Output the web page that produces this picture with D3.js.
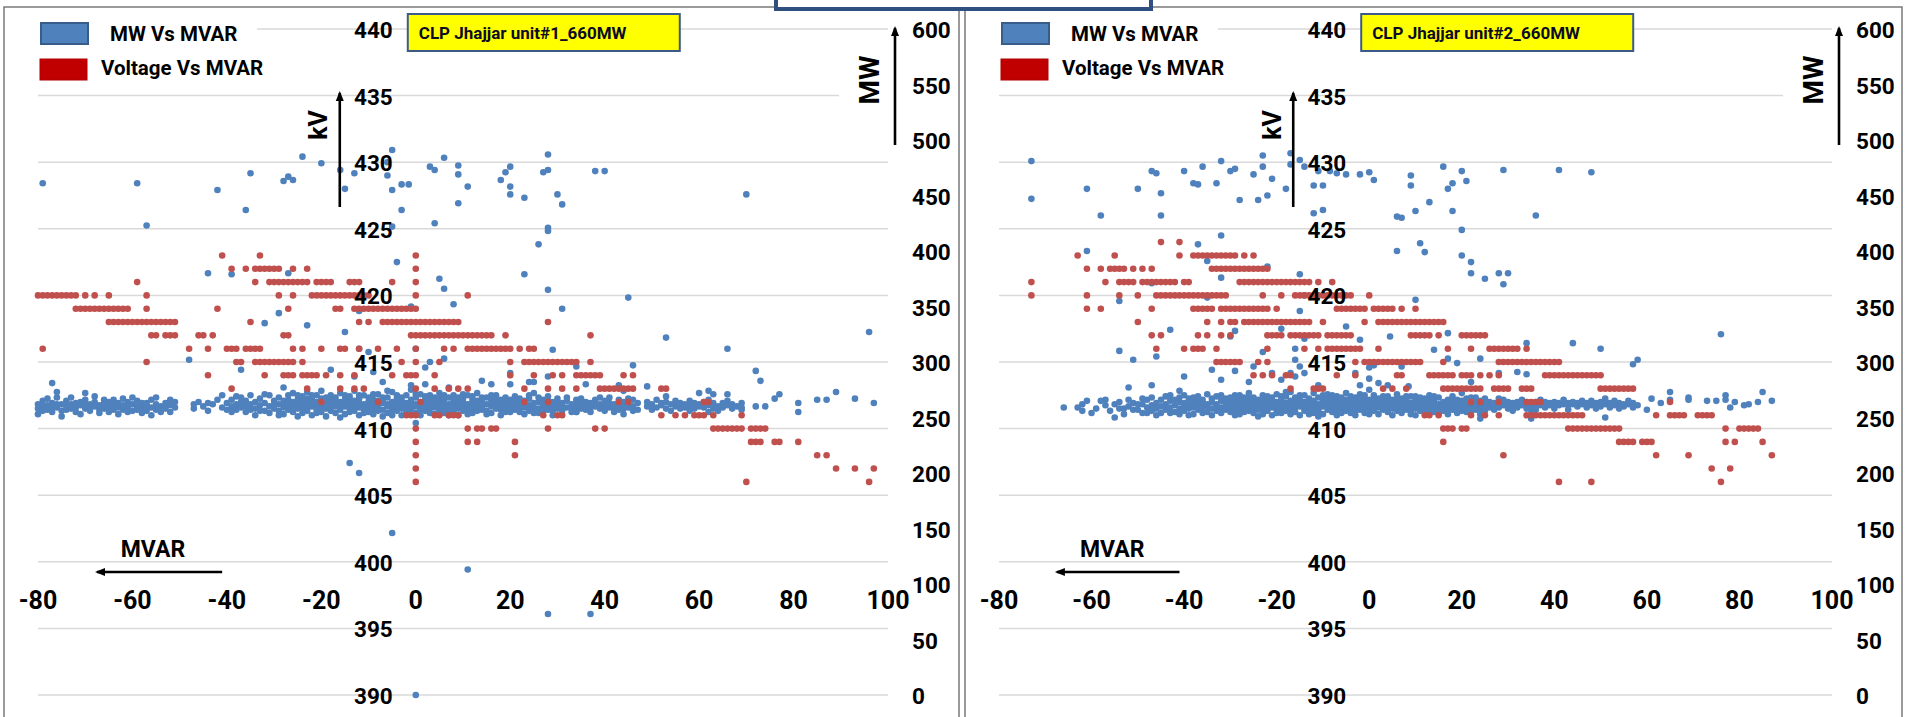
<!DOCTYPE html>
<html>
<head>
<meta charset="utf-8">
<script src="https://cdn.jsdelivr.net/npm/d3@7/dist/d3.min.js"></script>
<style>
  html, body { margin: 0; padding: 0; background: #fff; }
  svg { display: block; }
  text { font-family: Roboto, "Noto Sans", "Liberation Sans", sans-serif; }
</style>
</head>
<body>
<svg id="chart" width="1910" height="717"></svg>
<script>
// ---------------- axis ticks ----------------
const mvarTicks = [-80, -60, -40, -20, 0, 20, 40, 60, 80, 100];
const kvTicks = [390, 395, 400, 405, 410, 415, 420, 425, 430, 435, 440];
const mwTicks = [0, 50, 100, 150, 200, 250, 300, 350, 400, 450, 500, 550, 600];

// ---------------- series names / titles ----------------
const seriesNames = ["MW Vs MVAR", "Voltage Vs MVAR"];
const unitTitles = ["CLP Jhajjar unit#1_660MW", "CLP Jhajjar unit#2_660MW"];

// ---------------- Unit 1 : bus voltage (kV) per MVAR reading ----------------
// [kV, [MVAR readings at that voltage]]
const unit1Voltage = [
  [423, [-41, -33, 0]],
  [422, [-39, -36, -34, -33, -32, -31, -30, -29, -26, -23, 0]],
  [421, [-59, -34, -31, -30, -29, -28, -27, -26, -25, -24, -23, -21, -20, -19, -18, -14, -13, -12, -5, 0]],
  [420, [-80, -79, -78, -77, -76, -75, -74, -73, -72, -70, -68, -65, -57, -29, -26, -22, -21, -20, -19, -18, -17, -16, -15, -14, -13, -12, -11, -10, 0, 11]],
  [419, [-72, -71, -70, -69, -68, -67, -66, -65, -64, -63, -62, -61, -57, -42, -27, -17, -16, -13, -12, -11, -10, -9, -8, -7, -6, -5, -4, -3, -2, -1, 0]],
  [418, [-65, -64, -63, -62, -61, -60, -59, -58, -57, -56, -55, -54, -53, -52, -51, -35, -12, -10, -7, -6, -5, -4, -3, -2, -1, 0, 1, 2, 3, 4, 5, 6, 7, 8, 9, 28]],
  [417, [-56, -55, -53, -52, -51, -46, -45, -43, -28, -27, -1, 0, 1, 2, 3, 4, 5, 6, 7, 8, 9, 10, 11, 12, 13, 14, 15, 16, 19, 37]],
  [416, [-79, -48, -44, -40, -39, -38, -36, -35, -34, -33, -26, -24, -20, -16, -15, -12, -8, -4, 0, 6, 8, 11, 12, 13, 14, 15, 16, 17, 18, 19, 20, 22, 24, 25]],
  [415, [-57, -38, -37, -34, -33, -32, -31, -30, -29, -28, -27, -26, -24, -3, 0, 5, 20, 23, 24, 25, 26, 27, 28, 29, 30, 31, 32, 33, 34, 37]],
  [414, [-44, -32, -28, -27, -26, -24, -23, -22, -21, -19, -16, -13, -5, -2, -1, 0, 4, 20, 25, 29, 31, 34, 35, 36, 37, 38, 39, 44, 46]],
  [413, [-39, -23, -16, -13, -11, 0, 4, 7, 9, 11, 23, 28, 31, 34, 39, 40, 41, 42, 43, 44, 45, 46, 52, 53]],
  [412, [-20, -8, 1, 23, 28, 43, 45, 61, 62]],
  [411, [-2, -1, 0, 4, 5, 7, 8, 9, 27, 30, 31, 52, 55, 57, 59, 60, 61, 63, 69]],
  [410, [0, 11, 13, 14, 16, 17, 28, 38, 40, 63, 64, 65, 66, 67, 68, 69, 71, 72, 73, 74]],
  [409, [0, 11, 13, 21, 71, 72, 73, 76, 77, 81]],
  [408, [0, 21, 85, 87]],
  [407, [0, 89, 93, 97]],
  [406, [0, 70, 96]]
];

// ---------------- Unit 1 : generator load (MW) per MVAR reading ----------------
// normal-load cluster: [MVAR, [MW readings]]
const unit1LoadBand = [
  [-80, [258, 262, 253]], [-79, [260, 265, 256]], [-78, [257, 261, 267]], [-77, [263, 255, 259]], [-76, [259, 268, 262]],
  [-75, [262, 256, 251]], [-74, [260, 265, 257]], [-73, [258, 262, 268]], [-72, [255, 259, 263]], [-71, [261, 264, 253]],
  [-70, [258, 266, 262]], [-69, [262, 256, 259]], [-68, [260, 264, 269]], [-67, [257, 261, 254]], [-66, [263, 258, 266]],
  [-65, [255, 260, 264]], [-64, [262, 266, 257]], [-63, [259, 263, 253]], [-62, [257, 261, 267]], [-61, [264, 259, 255]],
  [-60, [256, 262, 268]], [-59, [260, 265, 257]], [-58, [258, 254, 263]], [-57, [261, 263, 256]], [-56, [259, 266, 252]],
  [-55, [257, 262, 268]], [-54, [260, 255]], [-53, [263, 258]], [-52, [261, 255, 266]], [-51, [259, 264]],
  [-47, [262, 258]], [-46, [264]], [-45, [260]], [-44, [256, 263]], [-43, [262]], [-42, [266]], [-41, [259, 270]], [-40, [263, 257]],
  [-39, [260, 266, 255]], [-38, [262, 257, 269]], [-37, [264, 268, 259]], [-36, [260, 255, 265]], [-35, [262, 270, 257]],
  [-34, [258, 264, 252]], [-33, [261, 267, 256]], [-32, [256, 263, 271]], [-31, [260, 270, 254]], [-30, [258, 265, 262]],
  [-29, [262, 256, 268, 252]], [-28, [259, 265, 253, 262]], [-27, [261, 270, 257, 266]], [-26, [264, 255, 260, 272]],
  [-25, [258, 266, 262, 251, 270]], [-24, [261, 254, 269, 265, 258]], [-23, [259, 263, 256, 273, 267]], [-22, [266, 260, 252, 262, 270]],
  [-21, [262, 257, 270, 264, 254]], [-20, [260, 255, 267, 274, 263]], [-19, [263, 258, 261, 251, 268]], [-18, [259, 265, 270, 256, 262]],
  [-17, [262, 254, 260, 268, 265]], [-16, [257, 264, 261, 272, 250]], [-15, [260, 266, 253, 263, 270]], [-14, [258, 262, 269, 255, 265]],
  [-13, [261, 256, 265, 274, 259]], [-12, [259, 263, 252, 267, 270]], [-11, [262, 257, 270, 260, 254]], [-10, [264, 255, 261, 268, 258]],
  [-9, [258, 266, 262, 253, 271]], [-8, [261, 259, 271, 256, 265]], [-7, [263, 257, 265, 251, 268]], [-6, [260, 268, 254, 262, 274]],
  [-5, [259, 264, 257, 273, 252]], [-4, [262, 256, 267, 260, 270]], [-3, [258, 265, 261, 252, 268]], [-2, [261, 270, 255, 263, 258]],
  [-1, [263, 258, 266, 275, 253]], [0, [260, 254, 268, 262, 271]], [1, [259, 264, 257, 271, 252]], [2, [262, 256, 266, 260, 269]],
  [3, [258, 263, 270, 254, 266]], [4, [261, 259, 265, 268, 253]], [5, [263, 256, 260, 272, 267]], [6, [259, 266, 254, 262, 270]],
  [7, [262, 257, 268, 260, 252]], [8, [260, 264, 255, 270, 266]], [9, [258, 263, 261, 252, 268]], [10, [261, 267, 256, 264, 271]],
  [11, [259, 262, 270, 257, 253]], [12, [263, 258, 266, 254, 269]], [13, [260, 265, 261, 272, 256]],
  [14, [259, 264, 257, 268]], [15, [262, 256, 268, 253]], [16, [260, 265, 254, 270]], [17, [258, 263, 270, 266]],
  [18, [261, 257, 266, 252]], [19, [263, 259, 255, 268]], [20, [260, 266, 262, 255]], [21, [257, 264, 269, 261]],
  [22, [262, 258, 255, 267]], [23, [259, 265, 261, 253]], [24, [261, 256, 267, 270]], [25, [263, 259, 272, 254]],
  [26, [258, 264, 254, 268]], [27, [260, 266, 262, 256]], [28, [262, 257, 269, 265]], [29, [259, 264, 256, 252]],
  [30, [261, 267, 258, 264]], [31, [263, 256, 260]], [32, [259, 265, 268]], [33, [262, 258, 255]], [34, [260, 266, 255, 263]],
  [35, [258, 263, 267]], [36, [261, 257, 264]], [37, [263, 259, 255]], [38, [260, 266, 262]], [39, [258, 262, 268]],
  [40, [261, 256, 265]], [41, [263, 268, 259]], [42, [259, 262, 255]], [43, [261, 257, 266]], [44, [258, 264, 261]],
  [45, [262, 259, 267]], [46, [260, 266, 256]], [47, [263, 257]],
  [49, [260, 264]], [50, [262, 257]], [51, [259, 266]], [52, [261, 263]], [53, [258, 264]],
  [54, [262, 256]], [55, [260, 265]], [56, [263, 258]], [57, [259, 262]], [58, [261, 256, 265]],
  [59, [258, 263]], [60, [262, 260]], [61, [259, 264]], [62, [261, 266]], [63, [258, 263]],
  [64, [260, 256]], [65, [263, 259]], [66, [261, 265]], [67, [258, 262]], [68, [260]], [69, [257, 263]]
];
// scattered readings: [MVAR, MW]
const unit1LoadScatter = [
  [-79, 461], [-59, 461], [-57, 423], [-42, 455], [-36, 437], [-35, 470], [-28, 463], [-27, 467],
  [-26, 464], [-24, 485], [-20, 479], [-16, 473], [-15, 456], [-13, 470], [-5, 491], [-6, 480],
  [-6, 468], [-5, 455], [-3, 460], [-1.5, 460], [-3, 437], [-5, 422], [3, 476], [4, 473], [6, 484],
  [4, 425], [9, 477], [9, 469], [9, 443], [11, 458], [18, 464], [19, 471], [20, 476], [20, 458],
  [20, 451], [23, 448], [27, 471], [28, 473], [28, 487], [28, 421], [30, 451], [31, 442], [38, 472],
  [40, 472], [70, 451],
  [-77, 281], [-76, 273], [-70, 272], [-44, 380], [-39, 379], [-27, 380], [-48, 302], [-37, 293],
  [-29, 344], [-32, 335], [-23, 333], [-28, 277], [-18, 293], [-15, 327], [-13, 287], [-12, 346],
  [-12, 312], [-10, 309], [-9, 291], [-7, 282], [-4, 390], [-1, 350], [0, 312], [0, 245], [-1, 279],
  [2, 295], [3, 300], [2, 280], [5, 375], [6, 366], [8, 352], [6, 303], [7, 277], [14, 283],
  [-14, 209], [-12, 200],
  [28, 418], [26, 406], [23, 379], [28, 365], [31, 348], [45, 358], [29, 311], [53, 322], [66, 312],
  [96, 327], [34, 296], [46, 297], [72, 292], [73, 283], [16, 280], [20, 290], [20, 280], [24, 282],
  [25, 282], [28, 287], [36, 280], [49, 278], [43, 279], [44, 274], [53, 269], [60, 272], [62, 274],
  [63, 271], [66, 271], [77, 271], [76, 267], [85, 266], [87, 266], [89, 273], [93, 267], [97, 263],
  [81, 263], [81, 255], [72, 260], [74, 260], [69, 259], [62, 255], [44, 253], [34, 255],
  [-5, 146], [11, 113], [28, 73], [37, 73], [0, 0]
];

// ---------------- Unit 2 : bus voltage (kV) per MVAR reading ----------------
const unit2Voltage = [
  [424, [-45, -41]],
  [423, [-63, -55, -41, -38, -37, -36, -35, -34, -33, -32, -31, -30, -29, -27, -25]],
  [422, [-61, -58, -56, -55, -54, -53, -51, -49, -47, -34, -33, -32, -31, -30, -29, -28, -27, -26, -25, -24, -23, -22]],
  [421, [-73, -57, -54, -53, -52, -51, -49, -48, -47, -46, -45, -44, -43, -42, -40, -39, -28, -27, -26, -25, -24, -23, -22, -21, -20, -19, -18, -17, -16, -15, -14, -13, -11, -8]],
  [420, [-73, -61, -54, -50, -46, -45, -44, -43, -42, -41, -40, -39, -38, -37, -36, -35, -34, -33, -32, -31, -23, -19, -16, -15, -14, -13, -12, -11, -10, -9, -8, -7, -6, -5, -4, 0]],
  [419, [-61, -58, -47, -38, -37, -36, -35, -34, -32, -31, -30, -29, -28, -27, -26, -25, -24, -23, -22, -20, -7, -6, -5, -4, -3, -2, -1, 1, 2, 3, 4, 5, 7, 10]],
  [418, [-50, -35, -32, -30, -29, -27, -26, -25, -24, -23, -22, -21, -20, -19, -18, -17, -16, -15, -14, -13, -10, -1, 2, 3, 4, 5, 6, 7, 8, 9, 10, 11, 12, 13, 14, 15, 16]],
  [417, [-47, -45, -37, -35, -32, -30, -22, -21, -20, -19, -17, -16, -15, -14, -13, -12, -11, -9, -8, -7, -6, -5, -4, 9, 10, 11, 12, 13, 15, 20, 21, 22, 23, 24, 25]],
  [416, [-46, -40, -38, -37, -36, -33, -22, -14, -11, -9, -8, -7, -6, -5, -4, -3, -2, 2, 17, 22, 26, 27, 28, 29, 30, 31, 32, 34]],
  [415, [-33, -32, -31, -30, -29, -28, -24, -22, -3, -1, 0, 1, 2, 3, 4, 5, 6, 7, 8, 9, 10, 11, 16, 28, 29, 30, 31, 32, 33, 34, 35, 36, 37, 38, 39, 40, 41]],
  [414, [-25, -23, -21, -18, -17, -7, -3, 6, 7, 13, 14, 15, 16, 17, 18, 20, 21, 22, 24, 26, 28, 38, 39, 40, 41, 42, 43, 44, 45, 46, 47, 48, 49, 50]],
  [413, [-17, -12, -11, -10, 3, 5, 8, 16, 17, 18, 19, 20, 21, 22, 23, 24, 27, 28, 29, 30, 33, 34, 35, 50, 51, 52, 53, 54, 55, 56, 57]],
  [412, [22, 24, 28, 34, 35, 36, 37, 65]],
  [411, [12, 13, 15, 22, 25, 28, 34, 35, 36, 37, 38, 39, 40, 41, 42, 43, 44, 45, 46, 62, 65, 66, 67, 68, 71, 72, 73, 74]],
  [410, [16, 17, 18, 20, 21, 43, 44, 45, 46, 47, 48, 49, 50, 51, 52, 53, 54, 77, 80, 81, 82, 83, 84]],
  [409, [16, 54, 55, 56, 57, 59, 60, 61, 77, 79, 85]],
  [408, [29, 62, 69, 87]],
  [407, [74, 78]],
  [406, [41, 48, 76]]
];

// ---------------- Unit 2 : generator load (MW) per MVAR reading ----------------
const unit2LoadBand = [
  [-66, [259]], [-62, [262, 256]], [-59, [258]], [-57, [261, 266]], [-56, [256]], [-55, [262]], [-54, [264, 258]],
  [-53, [258, 253]], [-52, [260, 266]], [-51, [263, 257]], [-50, [257, 262]], [-49, [262, 267]], [-48, [259, 266, 254]],
  [-47, [261, 256, 268]], [-46, [263, 258, 252]], [-45, [260, 266, 254]], [-44, [262, 257, 269]], [-43, [259, 265, 270, 254]],
  [-42, [261, 255, 266]], [-41, [264, 258, 268, 253]], [-40, [260, 256, 263, 270]], [-39, [262, 267, 258, 252]], [-38, [259, 264, 253, 268]],
  [-37, [261, 257, 269, 265]], [-36, [263, 259, 266, 254]], [-35, [260, 255, 262, 271]], [-34, [258, 264, 267, 252]],
  [-33, [262, 256, 260, 269]], [-32, [259, 265, 270, 254]], [-31, [261, 257, 263, 267]], [-30, [263, 259, 268, 255]],
  [-29, [260, 265, 257, 270, 252]], [-28, [262, 258, 270, 253, 266]], [-27, [259, 264, 261, 255, 268]], [-26, [261, 256, 267, 272, 263]],
  [-25, [263, 259, 254, 268, 266]], [-24, [260, 266, 262, 257, 251]], [-23, [258, 263, 270, 253, 266]], [-22, [261, 256, 265, 269, 259]],
  [-21, [263, 259, 268, 252, 265]], [-20, [260, 264, 257, 271, 254]], [-19, [262, 258, 266, 254, 269]], [-18, [259, 263, 269, 256, 273]],
  [-17, [261, 257, 265, 273, 253]], [-16, [263, 259, 255, 268, 266]], [-15, [260, 266, 262, 252, 270]], [-14, [258, 264, 270, 256, 261]],
  [-13, [261, 257, 263, 267, 253]], [-12, [259, 265, 254, 272, 262]], [-11, [262, 258, 268, 256, 251]], [-10, [260, 264, 253, 270, 266]],
  [-9, [263, 257, 266, 260, 271]], [-8, [259, 262, 270, 255, 266]], [-7, [261, 265, 257, 252, 269]], [-6, [258, 263, 268, 260, 254]],
  [-5, [262, 256, 266, 272, 259]], [-4, [260, 264, 254, 258, 269]], [-3, [263, 259, 268, 256, 252]], [-2, [261, 257, 265, 271, 267]],
  [-1, [259, 263, 254, 267, 270]], [0, [262, 258, 266, 260, 253]], [1, [260, 264, 256, 270, 267]], [2, [263, 259, 267, 253, 261]],
  [3, [261, 257, 265, 262, 269]], [4, [259, 263, 269, 255, 266]], [5, [262, 258, 266, 260, 252]], [6, [260, 264, 256, 271, 267]],
  [7, [263, 259, 267, 254, 261]], [8, [261, 257, 265, 262, 269]], [9, [259, 263, 269, 256, 253]], [10, [262, 258, 266, 252, 269]],
  [11, [260, 264, 256, 268, 262]], [12, [263, 259, 267, 261, 254]], [13, [261, 257, 264, 270, 266]], [14, [259, 263, 255, 266, 269]],
  [15, [262, 258, 268, 254]], [16, [260, 264, 256, 263]], [17, [262, 258, 266, 253]], [18, [261, 257, 264, 269]],
  [19, [263, 259, 254, 266]], [20, [260, 265, 262, 256]], [21, [262, 258, 267, 255]], [22, [259, 264, 256, 268]], [23, [261, 263, 268, 257]],
  [24, [262, 258, 265, 253]], [25, [260, 263, 256, 267]], [26, [262, 264, 259]], [27, [263, 261, 257]], [28, [262, 264, 259, 267]],
  [29, [263, 261, 266]], [30, [262, 264, 258]], [31, [263, 261, 256]], [32, [262, 264, 259]], [33, [263, 261, 266]],
  [34, [262, 264, 258]], [35, [263, 261, 256]], [36, [262, 264, 257]], [37, [263, 261, 266]], [38, [262, 264, 259]],
  [39, [263, 261]], [40, [262, 264, 258]], [41, [263, 261]], [42, [262, 264, 266]], [43, [263, 261, 257]],
  [44, [262, 264]], [45, [263, 260]], [46, [262, 265]], [47, [263, 259]], [48, [261, 265]], [49, [263, 258]],
  [50, [260, 264]], [51, [262, 267]], [52, [259, 263]], [53, [261, 265]], [54, [263, 258]], [55, [260, 262]],
  [56, [262, 265]], [57, [259, 263]], [58, [261]]
];
const unit2LoadScatter = [
  [-73, 481], [-73, 447], [-61, 456], [-58, 432], [-50, 456], [-47, 472], [-46, 470], [-45, 452],
  [-45, 432], [-40, 472], [-38, 461], [-37, 460], [-36, 476], [-33, 461], [-32, 481], [-32, 414],
  [-30, 472], [-29, 474], [-28, 446], [-25, 469], [-24, 446], [-23, 486], [-23, 476], [-22, 450],
  [-21, 465], [-18, 456], [-17, 488], [-17, 478], [-15, 482], [-14, 476], [-12, 459], [-10, 459],
  [-12, 434], [-10, 437], [-11, 472], [-8.5, 472], [-7, 470], [-5, 469], [-2, 469], [0, 471], [1, 464],
  [6, 431], [7, 430], [9, 468], [9, 459], [10, 436], [13, 444], [16, 476], [17, 456], [18, 436],
  [18, 461], [20, 472], [21, 463], [20, 419], [29, 473], [36, 432], [41, 473], [48, 471],
  [-61, 400], [-37, 406], [-35, 391], [-22, 386], [-32, 376], [-47, 371], [-54, 355], [-35, 358],
  [-14, 360], [-15, 379], [-19, 330], [-5, 332], [-14, 321], [-15, 346], [-30, 323], [-29, 328],
  [-43, 329], [-54, 310], [-51, 302], [-46, 305], [-23, 309], [-2, 320], [-16, 312], [-16, 302],
  [-15, 296], [-14, 290], [-16, 287], [0, 295], [1, 297], [7, 296], [4.5, 323], [10, 356], [-3, 290],
  [0, 285], [0, 275], [2, 281], [4, 279], [8.5, 278], [-40, 287], [-34, 293], [-32, 284], [-29, 292],
  [-26, 282], [-25, 296], [-21, 290], [-19, 284], [-17, 290], [-11, 279], [-2, 279], [-63, 259],
  [-61, 265], [-60, 254], [-58, 265], [-55, 250], [-52, 277], [-49, 254], [-47, 279], [-41, 274],
  [6, 400], [11, 407], [12, 399],
  [20, 396], [22, 390], [22, 380], [25, 375], [28, 380], [30, 380], [29, 370], [17, 326], [14, 311],
  [17, 303], [19, 299], [24, 303], [28, 290], [32, 291], [34, 317], [44, 317], [50, 312], [57, 298],
  [58, 302], [76, 325], [22, 282], [20, 272], [34, 289], [85, 273], [65, 273], [87, 265], [84, 264],
  [82, 262], [81, 261], [79, 264], [78, 259], [77, 270], [77, 266], [73, 265], [75, 265], [69, 268],
  [69, 266], [65, 266], [63, 263], [61, 267], [60, 257], [51, 250], [35, 249], [24, 249]
];

// ---------------- layout ----------------
const svg = d3.select("#chart");
const W = 1910, H = 717;
const BLUE = "#4f81bd", RED = "#c0504d";
const DOT_R = 3.3;

const panels = [
  { title: unitTitles[0], band: unit1LoadBand, scatter: unit1LoadScatter, voltage: unit1Voltage,
    frame: [4, 959], plot: [38, 888] },
  { title: unitTitles[1], band: unit2LoadBand, scatter: unit2LoadScatter, voltage: unit2Voltage,
    frame: [965, 1902], plot: [999, 1832] }
];
const yTop = 29, yBot = 695;

function label(g, x, y, str, o = {}) {
  return g.append("text")
    .attr("transform", `translate(${x},${y})` + (o.rotate ? ` rotate(${o.rotate})` : ""))
    .attr("text-anchor", o.anchor || "start")
    .attr("dominant-baseline", "central")
    .attr("font-size", o.size || 22.5)
    .attr("font-weight", o.weight || 700)
    .attr("fill", o.fill || "#000")
    .text(str);
}

function arrow(g, x1, y1, x2, y2) {
  g.append("line").attr("x1", x1).attr("y1", y1).attr("x2", x2).attr("y2", y2)
    .attr("stroke", "#000").attr("stroke-width", 2.6);
  const a = Math.atan2(y2 - y1, x2 - x1), L = 8, Wd = 4;
  const bx = x2 - L * Math.cos(a), by = y2 - L * Math.sin(a);
  const px = -Math.sin(a) * Wd, py = Math.cos(a) * Wd;
  g.append("path")
    .attr("d", `M${x2 + Math.cos(a) * 2},${y2 + Math.sin(a) * 2}L${bx + px},${by + py}L${bx - px},${by - py}Z`)
    .attr("fill", "#000");
}

svg.append("rect").attr("width", W).attr("height", H).attr("fill", "#fff");

panels.forEach(p => {
  const g = svg.append("g");
  const x = d3.scaleLinear().domain([-80, 100]).range(p.plot);
  const yKV = d3.scaleLinear().domain([390, 440]).range([yBot, yTop]);
  const yMW = d3.scaleLinear().domain([0, 600]).range([yBot, yTop]);
  const x0 = x(0);

  // frame
  g.append("rect").attr("x", p.frame[0]).attr("y", 7)
    .attr("width", p.frame[1] - p.frame[0]).attr("height", H)
    .attr("fill", "#fff").attr("stroke", "#7a7a7a").attr("stroke-width", 1.5);

  // gridlines (kV axis)
  g.append("g").selectAll("line").data(kvTicks).join("line")
    .attr("x1", p.plot[0]).attr("x2", p.plot[1])
    .attr("y1", d => yKV(d)).attr("y2", d => yKV(d))
    .attr("stroke", "#d9d9d9").attr("stroke-width", 1.5);

  // MW vs MVAR points
  const loadPts = [];
  p.band.forEach(([m, list]) => list.forEach(v => loadPts.push([m, v])));
  p.scatter.forEach(d => loadPts.push(d));
  g.append("g").selectAll("circle").data(loadPts).join("circle")
    .attr("cx", d => x(d[0])).attr("cy", d => yMW(d[1])).attr("r", DOT_R)
    .attr("fill", BLUE);

  // Voltage vs MVAR points
  const voltPts = [];
  p.voltage.forEach(([kv, list]) => list.forEach(m => voltPts.push([m, kv])));
  g.append("g").selectAll("circle").data(voltPts).join("circle")
    .attr("cx", d => x(d[0])).attr("cy", d => yKV(d[1])).attr("r", DOT_R)
    .attr("fill", RED);

  // legend
  const lx = p.plot[0];
  g.append("rect").attr("x", lx).attr("y", 14).attr("width", 219).attr("height", 76).attr("fill", "#fff");
  g.append("rect").attr("x", lx + 3).attr("y", 23).attr("width", 47).attr("height", 21)
    .attr("fill", BLUE).attr("stroke", "#385d8a").attr("stroke-width", 2);
  g.append("rect").attr("x", lx + 2).attr("y", 59).attr("width", 47).attr("height", 21)
    .attr("fill", "#c00000").attr("stroke", "#b00000").attr("stroke-width", 1);
  label(g, lx + 72, 34, seriesNames[0], { size: 20.5 });
  label(g, lx + 63, 68, seriesNames[1], { size: 20.5 });

  // white area behind the MW title
  g.append("rect").attr("x", p.plot[1] - 49).attr("y", 40).attr("width", 50).attr("height", 110).attr("fill", "#fff");

  // kV tick labels
  kvTicks.forEach(v => label(g, x0 - 23, yKV(v) + 1, v, { anchor: "end" }));
  // MW tick labels
  mwTicks.forEach(v => label(g, p.plot[1] + 24, yMW(v) + 1, v));
  // MVAR tick labels
  mvarTicks.forEach(v => label(g, x(v), 600, v, { anchor: "middle", size: 25 }));

  // unit title box
  g.append("rect").attr("x", x0 - 8).attr("y", 14).attr("width", 272).attr("height", 37)
    .attr("fill", "#ffff00").attr("stroke", "#3b5a8c").attr("stroke-width", 2);
  label(g, x0 + 3, 33, p.title, { size: 17, fill: "#0c0c24" });

  // axis titles with arrows
  label(g, x0 - 97, 125, "kV", { size: 25, anchor: "middle", rotate: -90 });
  arrow(g, x0 - 76, 207, x0 - 76, 93);
  label(g, p.plot[1] - 19, 80, "MW", { size: 28, anchor: "middle", rotate: -90 });
  arrow(g, p.plot[1] + 7, 145, p.plot[1] + 7, 28);
  label(g, x(-62.5), 549, "MVAR", { size: 23 });
  arrow(g, x(-41), 572, x(-67.5), 572);
});

// header box across the top
svg.append("rect").attr("x", 776).attr("y", -12).attr("width", 375).attr("height", 21)
  .attr("fill", "#fff").attr("stroke", "#2f4f7f").attr("stroke-width", 4);
</script>
</body>
</html>
